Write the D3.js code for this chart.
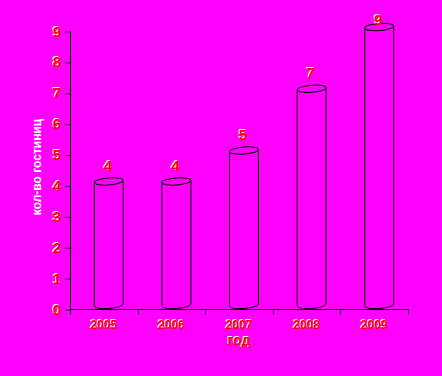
<!DOCTYPE html>
<html>
<head>
<meta charset="utf-8">
<script src="https://cdn.jsdelivr.net/npm/d3@7"></script>
<style>
  html, body { margin: 0; padding: 0; background: #ff00ff; }
  svg { display: block; }
  text { font-family: "Liberation Sans", Arial, sans-serif; font-weight: bold; }
</style>
</head>
<body>
<div id="chart"></div>
<script>
// chart data
const years = ['2005', '2006', '2007', '2008', '2009'];
const hotels = [4, 4, 5, 7, 9];
const yTicks = [0, 1, 2, 3, 4, 5, 6, 7, 8, 9];
const xTitle = 'год';
const yTitle = 'кол-во гостиниц';

const width = 442, height = 376;
const margin = { top: 31, right: 34, bottom: 67, left: 70 };
const innerW = width - margin.left - margin.right;   // 338
const innerH = height - margin.top - margin.bottom;  // 278

const svg = d3.select('#chart')
  .append('svg')
  .attr('width', width)
  .attr('height', height)
  .style('background', '#ff00ff');

const g = svg.append('g')
  .attr('transform', `translate(${margin.left}, ${margin.top})`);

const xScale = d3.scaleBand()
  .domain(years)
  .range([0, innerW]);

const yScale = d3.scaleLinear()
  .domain([0, 9])
  .range([innerH, 0]);

// red text with a white highlight up-left
function shadowText(sel, x, y, str, size, anchor, transform) {
  const t = sel.append('g');
  if (transform) t.attr('transform', transform);
  t.append('text').attr('x', x - 1).attr('y', y - 1)
    .attr('text-anchor', anchor).style('font-size', size + 'px')
    .attr('fill', '#ffffff').text(str);
  t.append('text').attr('x', x).attr('y', y)
    .attr('text-anchor', anchor).style('font-size', size + 'px')
    .attr('fill', '#ff0000').text(str);
}

// cylinders
const rx = 14.5, ry = 3.5, tilt = -4.5;
const a = tilt * Math.PI / 180;
const depthX = 5, depthY = -4;

function pt(cx, cy, t) {
  return [cx + rx * Math.cos(t) * Math.cos(a) - ry * Math.sin(t) * Math.sin(a),
          cy + rx * Math.cos(t) * Math.sin(a) + ry * Math.sin(t) * Math.cos(a)];
}

years.forEach(function(yr, i) {
  const cx = xScale(yr) + xScale.bandwidth() / 2 + depthX;
  const top = yScale(hotels[i]) + depthY;
  const bot = yScale(0) + depthY;
  const tl = pt(cx, top, Math.PI), tr = pt(cx, top, 0);
  const bl = pt(cx, bot, Math.PI), br = pt(cx, bot, 0);

  const path = `M${tl[0]},${tl[1]} L${bl[0]},${bl[1]} ` +
    `A${rx},${ry} ${tilt} 0 0 ${br[0]},${br[1]} L${tr[0]},${tr[1]}`;

  g.append('path')
    .attr('d', path)
    .attr('fill', 'none')
    .attr('stroke', '#000')
    .attr('stroke-width', 1);

  g.append('ellipse')
    .attr('cx', cx).attr('cy', top)
    .attr('rx', rx).attr('ry', ry)
    .attr('transform', `rotate(${tilt}, ${cx}, ${top})`)
    .attr('fill', 'none')
    .attr('stroke', '#000')
    .attr('stroke-width', 1);

  // value label, kept inside the window at the top
  const labelY = Math.max(yScale(hotels[i]) - 14.5, -6);
  shadowText(g, cx - 1, labelY, String(hotels[i]), 15, 'middle');
});

// y axis
const yAxis = d3.axisLeft(yScale)
  .tickValues(yTicks)
  .tickSize(5)
  .tickFormat('');

const yAxisG = g.append('g')
  .attr('transform', 'translate(0.5, 0)')
  .call(yAxis);
yAxisG.select('.domain').attr('d', `M0,0.5V${innerH + 5.5}`).attr('stroke', '#000');
yAxisG.selectAll('line').attr('stroke', '#000').attr('transform', 'translate(0,0.5)');

yTicks.forEach(function(v) {
  shadowText(g, -13, yScale(v) + 5.5, String(v), 15, 'middle');
});

// x axis
const xAxisG = g.append('g')
  .attr('transform', `translate(0, ${innerH + 0.5})`);
xAxisG.append('line')
  .attr('x1', 0).attr('x2', innerW + 0.5)
  .attr('y1', 0).attr('y2', 0)
  .attr('stroke', '#000');
xAxisG.selectAll('.edge')
  .data(years.concat(['end']))
  .enter()
  .append('line')
    .attr('class', 'edge')
    .attr('x1', (d, i) => Math.round(i < years.length ? xScale(d) : innerW) + 0.5)
    .attr('x2', (d, i) => Math.round(i < years.length ? xScale(d) : innerW) + 0.5)
    .attr('y1', 0).attr('y2', 5)
    .attr('stroke', '#000');

years.forEach(function(yr) {
  shadowText(g, xScale(yr) + xScale.bandwidth() / 2, innerH + 20, yr, 12, 'middle');
});

// axis titles
shadowText(g, innerW / 2, innerH + 36, xTitle, 14, 'middle');
svg.append('text')
  .attr('transform', `translate(41, 167) rotate(-90)`)
  .attr('text-anchor', 'middle')
  .style('font-size', '12px')
  .attr('fill', '#ffffff')
  .text(yTitle);
</script>
</body>
</html>
